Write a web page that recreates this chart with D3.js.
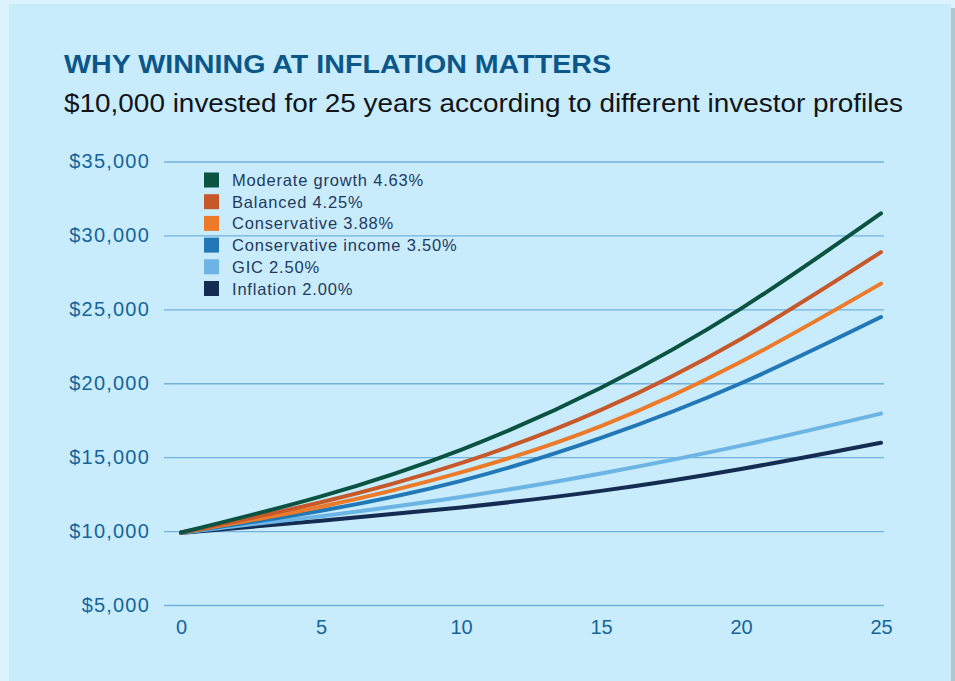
<!DOCTYPE html>
<html lang="en">
<head>
    <meta charset="utf-8">
    <script type="text/javascript" src="https://cdn.jsdelivr.net/npm/d3@7"></script>
    <style>
        body { margin: 0; background: #dcf2fd; }
        text { font-family: "Liberation Sans", Arial, sans-serif; }
    </style>
</head>
<body>
<script type="text/javascript">

    //Width and height
    let w = 955;
    let h = 681;

    //Data (value at each year tick)
    let years = [0, 5, 10, 15, 20, 25];
    let moderate = [9900, 12350, 15500, 19700, 25050, 31490];
    let balanced = [9900, 11950, 14600, 18200, 23000, 28870];
    let conservative = [9900, 11650, 13970, 17100, 21450, 26740];
    let consIncome = [9900, 11380, 13400, 16300, 20000, 24480];
    let gic = [9890, 11010, 12300, 13900, 15780, 17950];
    let inflation = [9870, 10700, 11600, 12720, 14200, 15980];

    let seriesNames = ["Moderate growth 4.63%", "Balanced 4.25%", "Conservative 3.88%",
        "Conservative income 3.50%", "GIC 2.50%", "Inflation 2.00%"];
    let seriesColors = ["#0a5340", "#c6582a", "#ec7a29", "#2277b6", "#6cb4e4", "#142b52"];
    let seriesValues = [moderate, balanced, conservative, consIncome, gic, inflation];

    let yTicks = [5000, 10000, 15000, 20000, 25000, 30000, 35000];
    let xTicks = [0, 5, 10, 15, 20, 25];

    //Create SVG element
    let svg = d3.select("body")
        .append("svg")
        .attr("width", w)
        .attr("height", h)
        .style("display", "block");

    //card and its shadow
    svg.append("rect")
        .attr("x", 951).attr("y", 8)
        .attr("width", 4).attr("height", h)
        .attr("fill", "#b3c6ce");
    svg.append("rect")
        .attr("x", 9).attr("y", 4)
        .attr("width", 942).attr("height", h)
        .attr("fill", "#c8ecfc");

    //titles
    svg.append("text")
        .attr("x", 64).attr("y", 73)
        .attr("font-size", 25)
        .attr("font-weight", "bold")
        .attr("fill", "#0c5789")
        .attr("textLength", 547)
        .attr("lengthAdjust", "spacingAndGlyphs")
        .text("WHY WINNING AT INFLATION MATTERS");

    svg.append("text")
        .attr("x", 64).attr("y", 112)
        .attr("font-size", 25)
        .attr("fill", "#111418")
        .attr("textLength", 839)
        .attr("lengthAdjust", "spacingAndGlyphs")
        .text("$10,000 invested for 25 years according to different investor profiles");

    //scales
    let x = d3.scaleLinear().domain([0, 25]).range([181, 881]);
    let y = d3.scaleLinear().domain([5000, 35000]).range([605, 161.5]);

    //gridlines + y labels
    let yAxis = svg.append("g")
        .attr("transform", "translate(164,0)")
        .call(d3.axisLeft(y)
            .tickValues(yTicks)
            .tickSize(-720)
            .tickPadding(14)
            .tickFormat(d => "$" + d3.format(",")(d)));
    yAxis.select(".domain").remove();
    yAxis.selectAll("line").attr("stroke", "#72b2dc").attr("stroke-width", 1.3);
    yAxis.selectAll("text")
        .attr("font-size", 20)
        .attr("letter-spacing", 1.2)
        .attr("fill", "#16659a")
        .attr("font-family", "Liberation Sans, Arial, sans-serif");

    //x labels
    let xAxis = svg.append("g")
        .attr("transform", "translate(0,612)")
        .call(d3.axisBottom(x).tickValues(xTicks).tickSize(0).tickPadding(8));
    xAxis.select(".domain").remove();
    xAxis.selectAll("text")
        .attr("font-size", 20)
        .attr("fill", "#16659a")
        .attr("font-family", "Liberation Sans, Arial, sans-serif");

    //lines
    let line = d3.line()
        .x((d, i) => x(years[i]))
        .y(d => y(d))
        .curve(d3.curveNatural);

    svg.selectAll("path.series")
        .data(seriesValues.slice().reverse())
        .enter()
        .append("path")
        .attr("class", "series")
        .attr("d", line)
        .attr("fill", "none")
        .attr("stroke", (d, i) => seriesColors[seriesColors.length - 1 - i])
        .attr("stroke-width", 4)
        .attr("stroke-linecap", "round");

    //legend
    let legend = svg.selectAll("g.legend")
        .data(seriesNames)
        .enter()
        .append("g")
        .attr("class", "legend")
        .attr("transform", (d, i) => "translate(204," + (172.5 + i * 21.7) + ")");

    legend.append("rect")
        .attr("width", 15).attr("height", 15)
        .attr("fill", (d, i) => seriesColors[i]);

    legend.append("text")
        .attr("x", 28).attr("y", 13.5)
        .attr("font-size", 16.5)
        .attr("letter-spacing", 0.8)
        .attr("fill", "#1f3a5c")
        .text(d => d);

</script>
</body>
</html>
